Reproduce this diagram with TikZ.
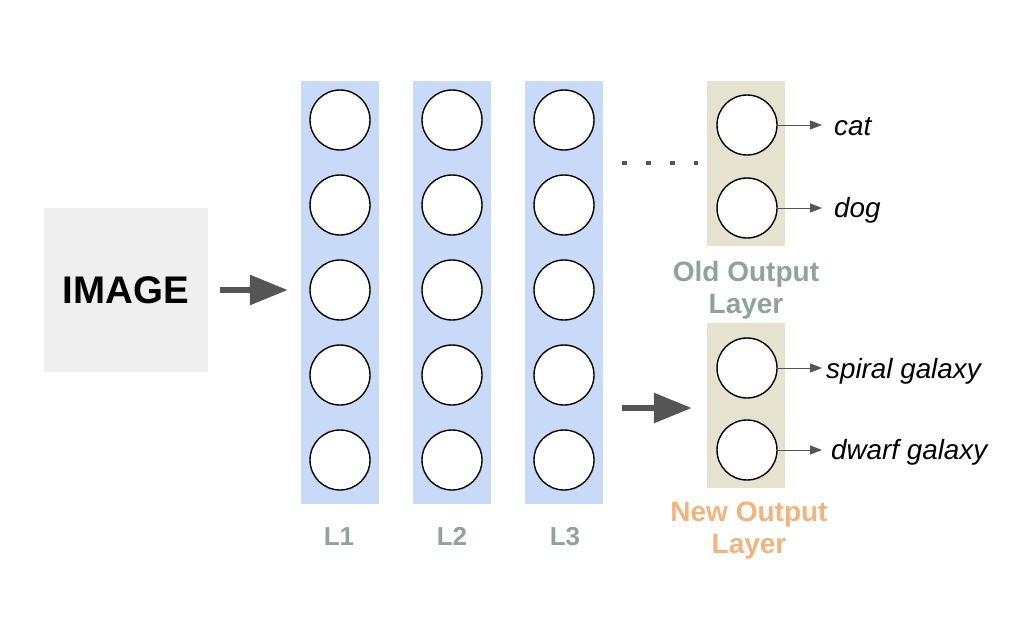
\documentclass[tikz,border=0pt]{standalone}
\usepackage{fontspec}
\setmainfont{Liberation Sans}
\usetikzlibrary{arrows.meta}
\definecolor{colblue}{HTML}{C9DAF8}
\definecolor{outbox}{HTML}{E6E2D0}
\definecolor{imgbox}{HTML}{EEEFEE}
\definecolor{labgreen}{HTML}{8FA39A}
\definecolor{laborange}{HTML}{F2B47C}
\definecolor{arrowgray}{HTML}{555555}
\tikzset{
  neuron/.style={circle, draw=black, line width=1.4pt, fill=white, minimum size=60pt, inner sep=0pt},
  colbox/.style={fill=colblue, draw=none, minimum width=78pt, minimum height=423pt, inner sep=0pt},
  obox/.style={fill=outbox, draw=none, minimum width=78pt, minimum height=165pt, inner sep=0pt},
  biglink/.style={draw=arrowgray, line width=6pt, -{Triangle[length=38pt,width=29pt]}, color=arrowgray},
  smalllink/.style={draw=arrowgray, line width=1pt, -{Triangle[length=12pt,width=9pt]}, color=arrowgray},
  laylab/.style={font=\fontsize{26}{30}\selectfont\bfseries, text=labgreen, inner sep=0pt, anchor=base},
  outlab/.style={font=\fontsize{28}{32}\selectfont\bfseries, align=center, inner sep=0pt, anchor=north},
  classlab/.style={font=\fontsize{27.8}{30}\selectfont\itshape, text=black, inner sep=0pt, anchor=base west}
}
\begin{document}
\begin{tikzpicture}[x=1pt,y=-1pt]
\useasboundingbox (0,0) rectangle (1030,621);
% image box
\node[fill=imgbox, minimum width=164pt, minimum height=164pt, inner sep=0pt,
      font=\fontsize{38.5}{40}\selectfont\bfseries] (img) at (126,290) {IMAGE};
% layer columns
\node[colbox] (L1) at (340,292.5) {};
\node[colbox] (L2) at (452,292.5) {};
\node[colbox] (L3) at (564,292.5) {};
\foreach \c/\x in {1/340,2/452,3/564}{
  \foreach \r/\y in {1/120,2/205,3/290,4/375,5/460}{
    \node[neuron] (n\c\r) at (\x,\y) {};
  }
}
% layer labels
\node[laylab] (l1lab) at (339,545) {L1};
\node[laylab] (l2lab) at (452,545) {L2};
\node[laylab] (l3lab) at (565,545) {L3};
% output boxes
\node[obox] (old) at (746,163) {};
\node[obox] (new) at (746,405) {};
\node[neuron] (o1) at (747,125) {};
\node[neuron] (o2) at (747,208) {};
\node[neuron] (p1) at (747,368) {};
\node[neuron] (p2) at (747,450) {};
% arrows
\draw[biglink, shorten <=12pt, shorten >=13pt] (img.east) -- (img.east -| L1.west);
\draw[biglink, shorten <=19pt, shorten >=15pt] (L3.east |- 0,408) coordinate (a2s) -- (new.west |- a2s);
% dots
\draw[arrowgray, line width=4.5pt, dash pattern=on 4.5pt off 19.5pt, shorten <=19pt, shorten >=9pt] (L3.east |- old.west) -- (old.west);
% small arrows
\coordinate (t1) at (822,125);
\coordinate (t2) at (822,208);
\coordinate (t3) at (822,368);
\coordinate (t4) at (822,450);
\draw[smalllink] (o1.east) -- (t1);
\draw[smalllink] (o2.east) -- (t2);
\draw[smalllink] (p1.east) -- (t3);
\draw[smalllink] (p2.east) -- (t4);
\node[classlab] (cat) at (834,135) {cat};
\node[classlab] (dog) at (834,217) {dog};
\node[classlab] (spiral) at (826,378) {spiral galaxy};
\node[classlab] (dwarf) at (831,459) {dwarf galaxy};
% output labels
\node[outlab, text=labgreen] (oldlab) at (746,261) {Old Output\\Layer};
\node[outlab, text=laborange] (newlab) at (749,502) {New Output\\Layer};
\end{tikzpicture}
\end{document}
